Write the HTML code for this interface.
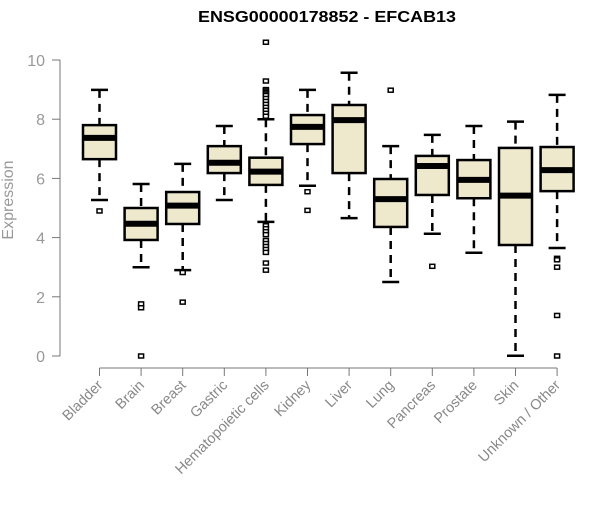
<!DOCTYPE html>
<html><head><meta charset="utf-8"><style>
body{margin:0;background:#fff;}
svg text{font-family:"Liberation Sans",Arial,sans-serif;}
</style></head><body>
<svg id="chart" width="600" height="500" xmlns="http://www.w3.org/2000/svg">
<text x="327" y="22" text-anchor="middle" font-size="16" font-weight="bold" textLength="258" lengthAdjust="spacingAndGlyphs">ENSG00000178852 - EFCAB13</text>
<text transform="translate(13,200) rotate(-90)" text-anchor="middle" font-size="16" fill="#999">Expression</text>
<g id="yaxis"></g>
<g id="xaxis"></g>
<g id="boxes"></g>
</svg>
<script>
const categories=["Bladder","Brain","Breast","Gastric","Hematopoietic cells","Kidney","Liver","Lung","Pancreas","Prostate","Skin","Unknown / Other"];
const whiskerLow=[5.27,3.0,2.9,5.27,4.53,5.75,4.66,2.5,4.13,3.49,0.01,3.65];
const q1=[6.65,3.92,4.46,6.18,5.78,7.16,6.18,4.36,5.44,5.33,3.75,5.57];
const medians=[7.37,4.47,5.08,6.53,6.23,7.74,7.97,5.3,6.42,5.95,5.42,6.28];
const q3=[7.8,5.0,5.54,7.09,6.7,8.14,8.48,5.98,6.76,6.62,7.03,7.06];
const whiskerHigh=[8.99,5.81,6.49,7.77,8.0,8.99,9.57,7.09,7.47,7.77,7.92,8.82];
const outliers=[[4.9],[1.76,1.63,0],[2.82,1.82],[],[10.6,9.29,9.0,8.95,8.9,8.85,8.8,8.7,8.6,8.5,8.4,8.3,8.2,8.1,4.4,4.3,4.2,4.1,3.9,3.8,3.7,3.6,3.5,3.14,2.9],[5.55,4.92],[],[8.98],[3.03],[],[],[3.3,3.25,3.0,1.37,0]];
const yTicks=[0,2,4,6,8,10];
const NS="http://www.w3.org/2000/svg";
const y=v=>356-v*29.6;
const x=i=>99.5+i*41.6;
function mk(tag,attrs,parent){const e=document.createElementNS(NS,tag);for(const k in attrs)e.setAttribute(k,attrs[k]);parent.appendChild(e);return e;}
const ya=document.getElementById('yaxis'),xa=document.getElementById('xaxis'),bx=document.getElementById('boxes');
mk('line',{x1:60,x2:60,y1:y(0),y2:y(10),stroke:'#777','stroke-width':1},ya);
yTicks.forEach(t=>{mk('line',{x1:52,x2:60,y1:y(t),y2:y(t),stroke:'#777'},ya);
const tx=mk('text',{x:45,y:y(t)+6,'text-anchor':'end','font-size':16,fill:'#999'},ya);tx.textContent=t;

});
mk('line',{x1:x(0),x2:x(categories.length-1),y1:368,y2:368,stroke:'#777'},xa);
categories.forEach((c,i)=>{
mk('line',{x1:x(i),x2:x(i),y1:368,y2:376,stroke:'#777'},xa);
const t=mk('text',{transform:`translate(${x(i)+4},${386}) rotate(-45)`,'text-anchor':'end','font-size':14.5,fill:'#888'},xa);
t.textContent=c;


const g=mk('g',{},bx);


const cx=x(i),hw=16.5;
mk('line',{x1:cx,x2:cx,y1:y(whiskerHigh[i]),y2:y(q3[i]),stroke:'#000','stroke-width':2.5,'stroke-dasharray':'8,6'},g);
mk('line',{x1:cx,x2:cx,y1:y(q1[i]),y2:y(whiskerLow[i]),stroke:'#000','stroke-width':2.5,'stroke-dasharray':'8,6'},g);
mk('line',{x1:cx-8.5,x2:cx+8.5,y1:y(whiskerHigh[i]),y2:y(whiskerHigh[i]),stroke:'#000','stroke-width':2.5},g);
mk('line',{x1:cx-8.5,x2:cx+8.5,y1:y(whiskerLow[i]),y2:y(whiskerLow[i]),stroke:'#000','stroke-width':2.5},g);
mk('rect',{x:cx-hw,y:y(q3[i]),width:hw*2,height:y(q1[i])-y(q3[i]),fill:'#EEE8CD',stroke:'#000','stroke-width':2.5},g);
mk('line',{x1:cx-hw,x2:cx+hw,y1:y(medians[i]),y2:y(medians[i]),stroke:'#000','stroke-width':6},g);
outliers[i].forEach(o=>{const r=mk('rect',{x:cx-2.5,y:y(o)-2,width:5,height:4,fill:'#fff',stroke:'#000','stroke-width':1.5},g);

});
});
</script>
</body></html>
